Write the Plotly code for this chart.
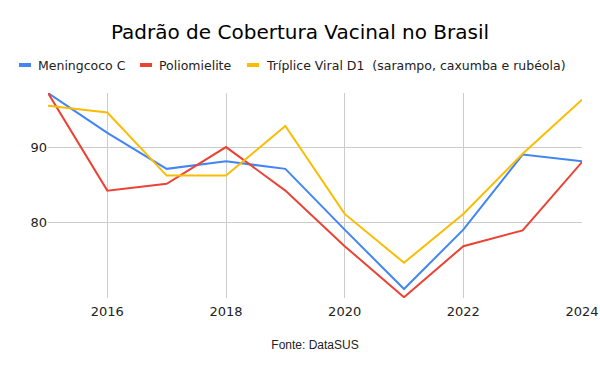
import plotly.graph_objects as go

years = [2015, 2016, 2017, 2018, 2019, 2020, 2021, 2022, 2023, 2024]
meningococo = [97.2, 91.9, 87.1, 88.1, 87.1, 79.0, 71.1, 79.0, 89.0, 88.1]
polio = [97.2, 84.2, 85.1, 90.0, 84.2, 76.8, 70.0, 76.8, 78.9, 88.0]
triplice = [95.5, 94.6, 86.2, 86.2, 92.8, 81.1, 74.6, 81.1, 89.1, 96.3]

names = ["Meningcoco C", "Poliomielite", "Tríplice Viral D1\u00a0 (sarampo, caxumba e rubéola)"]
colors = ["#4285F4", "#EA4335", "#FBBC04"]
series = [meningococo, polio, triplice]

x_ticks = [2016, 2018, 2020, 2022, 2024]
y_ticks = [80, 90]

L, R, T, B = 48, 18, 93, 73
PW, PH = 600 - L - R, 371 - T - B

fig = go.Figure()
for name, vals, c in zip(names, series, colors):
    fig.add_trace(go.Scatter(x=years, y=vals, mode="lines", name=name,
                             line=dict(color=c, width=2), showlegend=False,
                             hoverinfo="skip"))

# legend drawn manually
legend_x = [19, 140, 247]
ly = (371 - B - 65) / PH
for name, c, lx in zip(names, colors, legend_x):
    fig.add_shape(type="line", xref="paper", yref="paper",
                  x0=(lx - L) / PW, x1=(lx + 12 - L) / PW,
                  y0=ly, y1=ly, line=dict(color=c, width=4))
    fig.add_annotation(xref="paper", yref="paper", x=(lx + 17 - L) / PW,
                       y=ly, text=name, showarrow=False,
                       xanchor="left", yanchor="middle",
                       font=dict(family="DejaVu Sans", size=12.5, color="#222222"))

fig.update_layout(
    width=600, height=371,
    margin=dict(l=L, r=R, t=T, b=B, autoexpand=False),
    paper_bgcolor="white", plot_bgcolor="white",
    title=dict(text="Padrão de Cobertura Vacinal no Brasil", x=0.5, xanchor="center",
               xref="container", yref="container",
               y=1 - 32 / 371, yanchor="middle",
               font=dict(family="DejaVu Sans", size=20, color="#000000")),
    xaxis=dict(range=[2015, 2024], tickvals=x_ticks, ticktext=[str(t) for t in x_ticks],
               showgrid=True, gridcolor="#cccccc", gridwidth=1, zeroline=False,
               showline=False, ticks="", ticklen=0, automargin=False,
               ticklabelstandoff=4,
               tickfont=dict(family="DejaVu Sans", size=13, color="#222222"),
               title=dict(text="Fonte: DataSUS", standoff=22,
                          font=dict(family="Liberation Sans", size=12, color="#222222"))),
    yaxis=dict(range=[69.9, 97.2], tickvals=y_ticks, ticktext=[str(t) for t in y_ticks],
               showgrid=True, gridcolor="#cccccc", gridwidth=1, zeroline=False,
               showline=False, ticks="", ticklen=0, automargin=False,
               tickfont=dict(family="DejaVu Sans", size=13, color="#222222")),
)

fig.write_html("out.html", config={"displayModeBar": False},
               post_script="document.body.style.margin='0';document.body.style.overflow='hidden';")
